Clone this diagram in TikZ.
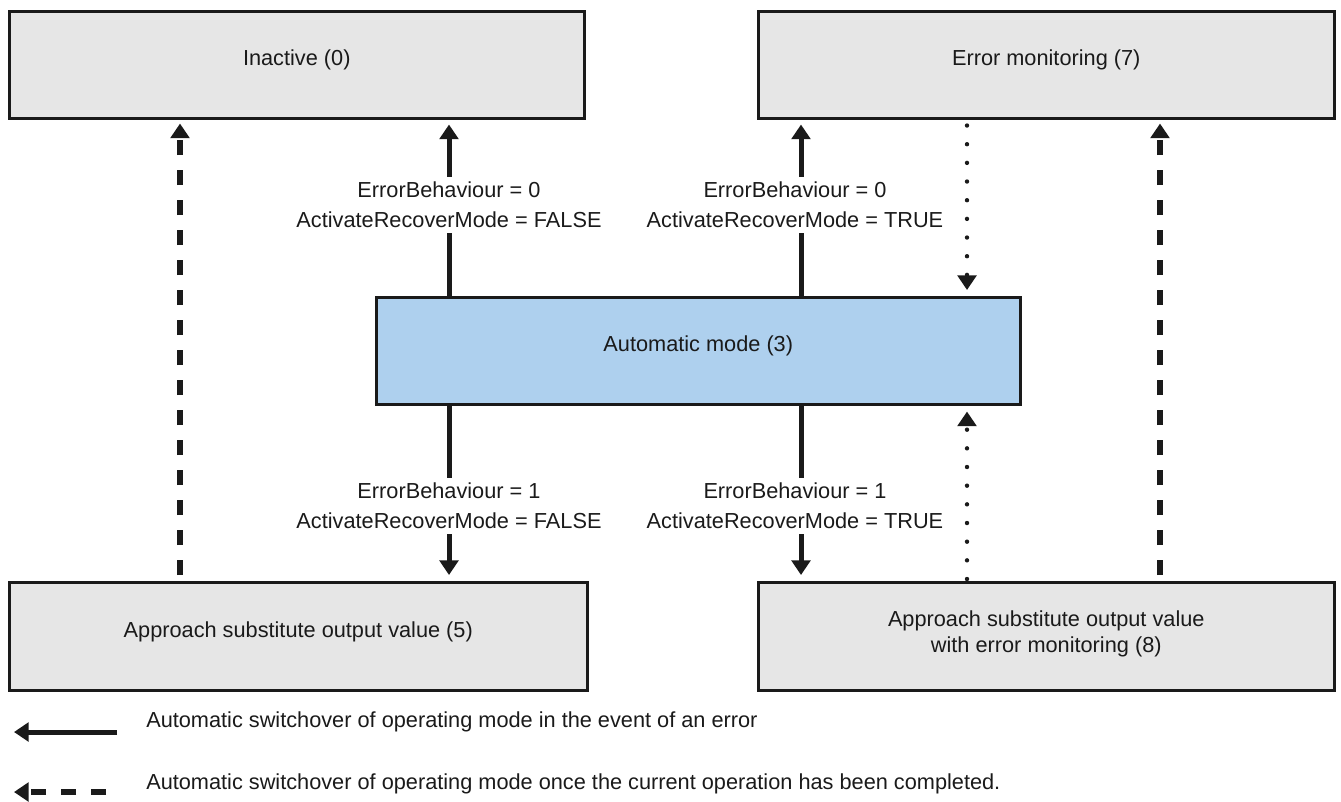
\documentclass[tikz,border=0pt]{standalone}
\usepackage{fontspec}
\setmainfont{Liberation Sans}
\usetikzlibrary{arrows.meta,calc}
\definecolor{boxgray}{HTML}{E6E6E6}
\definecolor{autoblue}{HTML}{AED0EE}
\definecolor{ink}{HTML}{1A1A1A}
\begin{document}
\begin{tikzpicture}[x=0.75pt,y=-0.75pt,
  font=\fontsize{16.3pt}{22.5pt}\selectfont,
  every node/.style={text=ink},
  statebox/.style={draw=ink, line width=1.9pt, fill=boxgray, inner sep=0pt, anchor=north west},
  autobox/.style={statebox, fill=autoblue},
  boxtext/.style={align=center, inner sep=0pt},
  lbl/.style={align=center, inner sep=4pt, outer sep=0pt},
  solidline/.style={draw=ink, line width=3.75pt},
  solidarrow/.style={solidline, -{Triangle[length=11pt,width=14pt]}},
  dasharrow/.style={draw=ink, line width=4.2pt, dash pattern=on 11.25pt off 11.25pt, -{Triangle[length=11pt,width=14pt]}},
  dotarrow/.style={draw=ink, line width=3.3pt, line cap=round, dash pattern=on 0pt off 14pt, -{Triangle[length=11pt,width=14pt,line cap=butt]}},
  legtext/.style={anchor=base west, inner sep=0pt}
]
\useasboundingbox (0,0) rectangle (1341,801);

% state boxes
\node[statebox, minimum width=431.25pt, minimum height=80.25pt] (inactive) at (8,10) {};
\node[statebox, minimum width=432pt, minimum height=80.25pt] (errmon) at (757,10) {};
\node[autobox, minimum width=483pt, minimum height=80.25pt] (auto) at (375,296) {};
\node[statebox, minimum width=433.5pt, minimum height=81pt] (subst) at (8,581) {};
\node[statebox, minimum width=432pt, minimum height=81pt] (substmon) at (757,581) {};

% box texts
\node[boxtext] (tinactive) at ($(inactive.center)+(0,-5)$) {Inactive (0)};
\node[boxtext] (terrmon) at ($(errmon.center)+(0,-5)$) {Error monitoring (7)};
\node[boxtext] (tauto) at ($(auto.center)+(0,-5)$) {Automatic mode (3)};
\node[boxtext] (tsubst) at ($(subst.center)+(0,-4)$) {Approach substitute output value (5)};
\node[boxtext] (tsubstmon) at ($(substmon.center)+(0,-2)$) {Approach substitute output value\\[-3pt]with error monitoring (8)};

% x positions of the connectors
\coordinate (xA) at (180,0);
\coordinate (xB) at (449,0);
\coordinate (xC) at (801,0);
\coordinate (xD) at (967,0);
\coordinate (xE) at (1160,0);

% labels
\node[lbl] (l1) at (449,205) {ErrorBehaviour = 0\\ActivateRecoverMode = FALSE};
\node[lbl] (l2) at (795,205) {ErrorBehaviour = 0\\ActivateRecoverMode = TRUE};
\node[lbl] (l3) at (449,506) {ErrorBehaviour = 1\\ActivateRecoverMode = FALSE};
\node[lbl] (l4) at (795,506) {ErrorBehaviour = 1\\ActivateRecoverMode = TRUE};

% automatic mode -> inactive
\draw[solidline] (auto.north -| xB) -- (l1.south -| xB);
\draw[solidarrow] (l1.north -| xB) -- ($(inactive.south -| xB)+(0,5)$);
% automatic mode -> error monitoring
\draw[solidline] (auto.north -| xC) -- (l2.south -| xC);
\draw[solidarrow] (l2.north -| xC) -- ($(errmon.south -| xC)+(0,5)$);
% automatic mode -> substitute value
\draw[solidline] (auto.south -| xB) -- (l3.north -| xB);
\draw[solidarrow] (l3.south -| xB) -- ($(subst.north -| xB)+(0,-6)$);
% automatic mode -> substitute value with error monitoring
\draw[solidline] (auto.south -| xC) -- (l4.north -| xC);
\draw[solidarrow] (l4.south -| xC) -- ($(substmon.north -| xC)+(0,-6)$);

% dashed: after completion
\draw[dasharrow] ($(subst.north -| xA)+(0,-6)$) -- ($(inactive.south -| xA)+(0,4)$);
\draw[dasharrow] ($(substmon.north -| xE)+(0,-6)$) -- ($(errmon.south -| xE)+(0,4)$);

% dotted
\draw[dotarrow] ($(errmon.south -| xD)+(0,6)$) -- ($(auto.north -| xD)+(0,-6)$);
\draw[dotarrow] ($(substmon.north -| xD)+(0,-2)$) -- ($(auto.south -| xD)+(0,6)$);

% legend
\coordinate (g1a) at (117,732);
\coordinate (g1b) at (14,732);
\coordinate (g2a) at (106,792);
\coordinate (g2b) at (14,792);
\draw[solidarrow] (g1a) -- (g1b);
\draw[dasharrow] (g2a) -- (g2b);
\node[legtext] (t1) at (146,727) {Automatic switchover of operating mode in the event of an error};
\node[legtext] (t2) at (146,789) {Automatic switchover of operating mode once the current operation has been completed.};
\end{tikzpicture}
\end{document}
